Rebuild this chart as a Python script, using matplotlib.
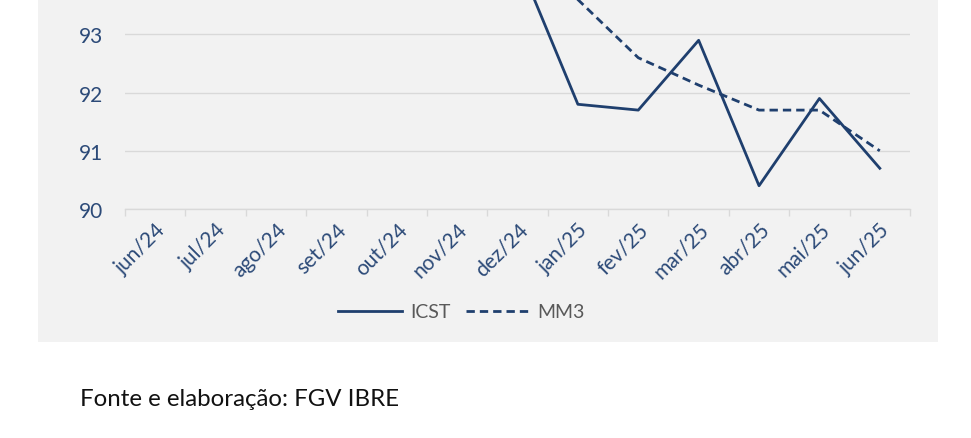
# ICST e média móvel trimestral (MM3) - FGV IBRE
import numpy as np
import matplotlib.pyplot as plt
from matplotlib.patches import Rectangle
from matplotlib.transforms import ScaledTranslation

plt.rcParams['font.family'] = ['Lato', 'DejaVu Sans']

# dados (meses de 2024 acima do topo do recorte são estimados)
meses = ['jun/24', 'jul/24', 'ago/24', 'set/24', 'out/24', 'nov/24', 'dez/24',
         'jan/25', 'fev/25', 'mar/25', 'abr/25', 'mai/25', 'jun/25']
icst = [96.8, 97.0, 97.6, 97.3, 96.9, 94.7, 94.3,
        91.8, 91.7, 92.9, 90.4, 91.9, 90.7]
mm3 = [96.5, 96.8, 97.1, 97.3, 97.3, 96.3, 95.3,
       93.6, 92.6, 92.13, 91.7, 91.7, 91.0]
yticks = [90, 91, 92, 93]

cor_linha = '#1F3F6E'
cor_texto = '#2C4A78'
cor_grade = '#D9D9D9'
fundo = '#F2F2F2'

fig = plt.figure(figsize=(9.71, 4.39), dpi=100)
fig.patch.set_facecolor('white')

# painel cinza atrás do gráfico
fig.patches.append(Rectangle((38 / 971, 96 / 439), 900 / 971, 343 / 439,
                             transform=fig.transFigure, facecolor=fundo,
                             edgecolor='none', zorder=0))

ax = fig.add_axes([125 / 971, 229 / 439, 785 / 971, 210 / 439])
ax.set_facecolor('none')
ax.set_zorder(2)

x = np.arange(len(meses))
dash = (0, (3, 1.8))
ax.plot(x, icst, color=cor_linha, lw=2, label='ICST', zorder=3)
ax.plot(x, mm3, color=cor_linha, lw=2, linestyle=dash, label='MM3', zorder=3)

ax.set_xlim(-0.5, len(meses) - 0.5)
ax.set_ylim(90, 93.61)
ax.set_yticks(yticks)
ax.set_yticklabels([str(v) for v in yticks])
ax.grid(axis='y', color=cor_grade, lw=1)
ax.set_axisbelow(True)

for s in ['top', 'right', 'left']:
    ax.spines[s].set_visible(False)
ax.spines['bottom'].set_color(cor_grade)
ax.spines['bottom'].set_linewidth(1)

ax.set_xticks(x)
ax.set_xticklabels(meses, rotation=45, ha='right', va='top',
                   rotation_mode='anchor', color=cor_texto, fontsize=15)
desloc = ScaledTranslation(5 / 100, 0, fig.dpi_scale_trans)
for lab in ax.get_xticklabels():
    lab.set_transform(lab.get_transform() + desloc)
ax.set_xticks(np.arange(-0.5, len(meses), 1), minor=True)
ax.tick_params(axis='x', which='major', length=0, pad=7)
ax.tick_params(axis='x', which='minor', length=5, color=cor_grade, width=1)
ax.tick_params(axis='y', length=0, pad=16, labelsize=15, labelcolor=cor_texto)

handles, labels = ax.get_legend_handles_labels()
fig.legend(handles, labels, loc='center', ncol=2,
           bbox_to_anchor=(461.5 / 971, 126 / 439), frameon=False,
           fontsize=14, labelcolor='#595959', handlelength=3.3,
           handletextpad=0.4, columnspacing=0.8)

fig.text(80 / 971, 39 / 439, 'Fonte e elaboração: FGV IBRE',
         fontsize=17.3, color='#111111', ha='left', va='center')

fig.savefig('out.png', dpi=100)
